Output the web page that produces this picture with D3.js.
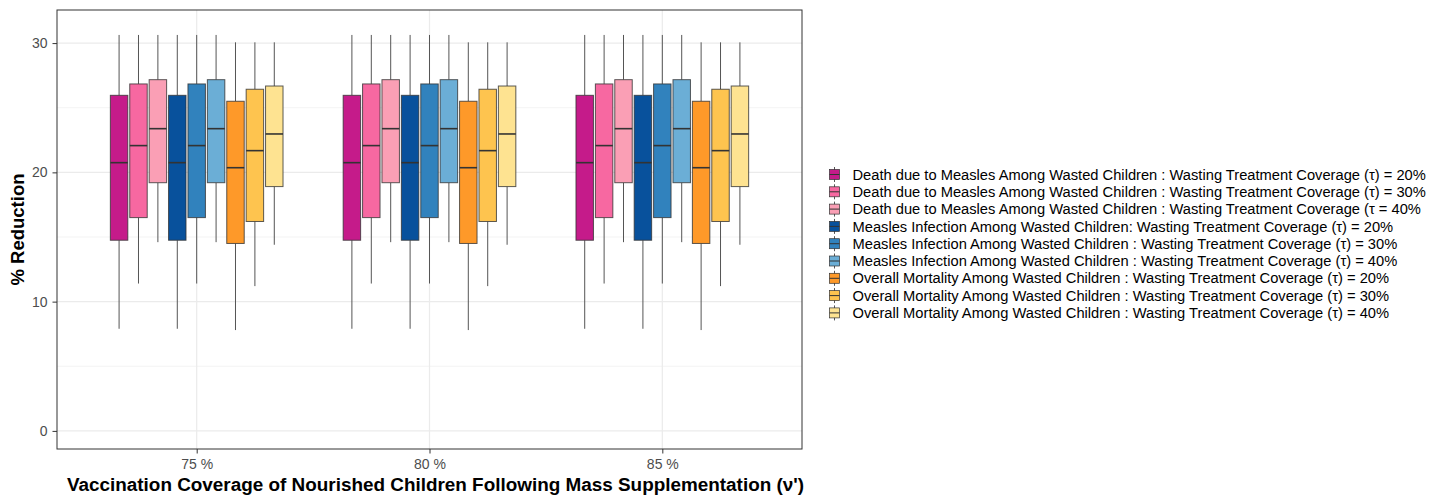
<!DOCTYPE html>
<html><head><meta charset="utf-8">
<script src="https://cdn.jsdelivr.net/npm/d3@7"></script>
<style>body{margin:0;background:#fff}svg{font-family:"Liberation Sans",Arial,sans-serif}</style>
</head><body>
<svg id="c" width="1432" height="500"></svg>
<script>
const categories = ["75 %", "80 %", "85 %"];
const series = [
 "Death due to Measles Among Wasted Children : Wasting Treatment Coverage (τ) = 20%",
 "Death due to Measles Among Wasted Children : Wasting Treatment Coverage (τ) = 30%",
 "Death due to Measles Among Wasted Children : Wasting Treatment Coverage (τ = 40%",
 "Measles Infection Among Wasted Children: Wasting Treatment Coverage (τ) = 20%",
 "Measles Infection Among Wasted Children : Wasting Treatment Coverage (τ) = 30%",
 "Measles Infection Among Wasted Children : Wasting Treatment Coverage (τ) = 40%",
 "Overall Mortality Among Wasted Children : Wasting Treatment Coverage (τ) = 20%",
 "Overall Mortality Among Wasted Children : Wasting Treatment Coverage (τ) = 30%",
 "Overall Mortality Among Wasted Children : Wasting Treatment Coverage (τ) = 40%"
];
const colors = ["#C51B8A","#F768A1","#FA9FB5","#08519C","#3182BD","#6BAED6","#FE9929","#FEC44F","#FEE391"];
// per series: same values in each category group
const whiskerLow  = [7.9, 11.4, 14.6, 7.9, 11.4, 14.6, 7.8, 11.2, 14.4];
const q1          = [14.75, 16.5, 19.2, 14.75, 16.5, 19.2, 14.5, 16.2, 18.9];
const median      = [20.75, 22.07, 23.38, 20.75, 22.07, 23.38, 20.36, 21.68, 22.97];
const q3          = [25.96, 26.84, 27.17, 25.96, 26.84, 27.17, 25.5, 26.43, 26.68];
const whiskerHigh = [30.63, 30.63, 30.63, 30.63, 30.63, 30.63, 30.06, 30.06, 30.06];
const yTicks = [0, 10, 20, 30];
const yMinor = [5, 15, 25];

const svg = d3.select("#c");
const L = 57, R = 802, T = 10, B = 449;
const x = d3.scalePoint().domain(categories).range([L, R]).padding(0.6);
const step = x.step();
const xs = d3.scaleBand().domain(d3.range(series.length)).range([-0.375*step, 0.375*step]).paddingInner(0.1).paddingOuter(0.05);
const y = d3.scaleLinear().domain([-1.4, 32.56]).range([B, T]);

const data = [];
categories.forEach(c => series.forEach((s, i) => data.push({c, i, lo: whiskerLow[i], q1: q1[i], med: median[i], q3: q3[i], hi: whiskerHigh[i]})));

// grid
const g = svg.append("g");
g.selectAll(".mn").data(yMinor).join("line").attr("x1", L).attr("x2", R).attr("y1", d=>y(d)).attr("y2", d=>y(d)).attr("stroke", "#ebebeb").attr("stroke-width", 0.6);
g.selectAll(".mj").data(yTicks).join("line").attr("x1", L).attr("x2", R).attr("y1", d=>y(d)).attr("y2", d=>y(d)).attr("stroke", "#ebebeb").attr("stroke-width", 1.2);
g.selectAll(".vx").data(categories).join("line").attr("x1", d=>x(d)).attr("x2", d=>x(d)).attr("y1", T).attr("y2", B).attr("stroke", "#ebebeb").attr("stroke-width", 1.2);

// boxes
const bx = svg.append("g").selectAll("g").data(data).join("g");
const cx = d => x(d.c) + xs(d.i) + xs.bandwidth()/2;
bx.append("line").attr("x1", cx).attr("x2", cx).attr("y1", d=>y(d.hi)).attr("y2", d=>y(d.q3)).attr("stroke", "#555").attr("stroke-width", 1);
bx.append("line").attr("x1", cx).attr("x2", cx).attr("y1", d=>y(d.q1)).attr("y2", d=>y(d.lo)).attr("stroke", "#555").attr("stroke-width", 1);
bx.append("rect").attr("x", d=>x(d.c)+xs(d.i)).attr("width", xs.bandwidth())
  .attr("y", d=>y(d.q3)).attr("height", d=>y(d.q1)-y(d.q3))
  .attr("fill", d=>colors[d.i]).attr("stroke", "#333").attr("stroke-opacity", 0.8).attr("stroke-width", 1);
bx.append("line").attr("x1", d=>x(d.c)+xs(d.i)).attr("x2", d=>x(d.c)+xs(d.i)+xs.bandwidth())
  .attr("y1", d=>y(d.med)).attr("y2", d=>y(d.med)).attr("stroke", "#333").attr("stroke-width", 1.6);

// border
svg.append("rect").attr("x", L).attr("y", T).attr("width", R-L).attr("height", B-T).attr("fill", "none").attr("stroke", "#333").attr("stroke-width", 1);

// axes
const ya = svg.append("g").attr("transform", `translate(${L},0)`).call(d3.axisLeft(y).tickValues(yTicks).tickSize(4.5).tickPadding(5));
const xa = svg.append("g").attr("transform", `translate(0,${B})`).call(d3.axisBottom(x).tickSize(4.5).tickPadding(6));
[ya, xa].forEach(a => { a.select(".domain").remove(); a.selectAll(".tick line").attr("stroke", "#333");
  a.selectAll("text").attr("fill", "#4d4d4d").style("font-size", "14px").style("font-family", "'Liberation Sans',Arial,sans-serif"); });

svg.append("text").attr("transform", "translate(23.5,229.5) rotate(-90)").attr("text-anchor", "middle")
  .style("font-size", "18.5px").style("font-weight", "bold").text("% Reduction");
svg.append("text").attr("x", 435.5).attr("y", 491).attr("text-anchor", "middle")
  .style("font-size", "18.9px").style("font-weight", "bold").text("Vaccination Coverage of Nourished Children Following Mass Supplementation (ν')");

// legend
const lg = svg.append("g").attr("transform", "translate(829,174.5)");
const row = lg.selectAll("g").data(series).join("g").attr("transform", (d,i)=>`translate(0,${i*17.3})`);
row.append("line").attr("x1", 5.5).attr("x2", 5.5).attr("y1", -7.5).attr("y2", 7.5).attr("stroke", "#555");
row.append("rect").attr("x", 0.5).attr("y", -5).attr("width", 10).attr("height", 10).attr("fill", (d,i)=>colors[i]).attr("stroke", "#333").attr("stroke-width", 0.7);
row.append("line").attr("x1", 0.5).attr("x2", 10.5).attr("y1", 0).attr("y2", 0).attr("stroke", "#333").attr("stroke-width", 1);
row.append("text").attr("x", 23.5).attr("y", 0).attr("dy", "0.35em").style("font-size", "14.7px").attr("fill", "#000").text(d=>d);
</script>
</body></html>
